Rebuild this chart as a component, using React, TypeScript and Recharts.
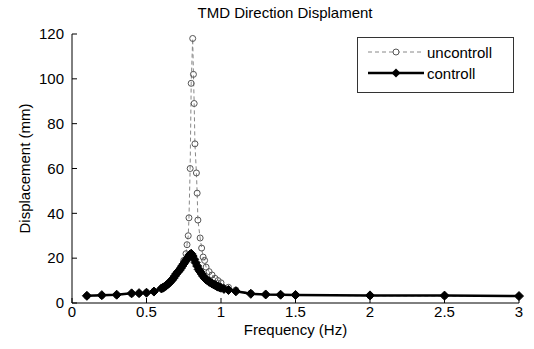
import React from "react";
import { LineChart, Line, XAxis, YAxis } from "recharts";

const uncFreq = [0.1, 0.2, 0.3, 0.4, 0.45, 0.5, 0.55, 0.6, 0.65, 0.7, 0.73, 0.75, 0.765, 0.772, 0.78, 0.785, 0.793, 0.8, 0.81, 0.815, 0.82, 0.825, 0.835, 0.84, 0.845, 0.86, 0.87, 0.88, 0.89, 0.9, 0.92, 0.94, 0.96, 0.98, 1.0, 1.05, 1.1, 1.2, 1.3, 1.4, 1.5, 2.0, 2.5, 3.0];
const uncDisp = [3.1, 3.3, 3.5, 4.1, 4.3, 4.7, 5.3, 6.5, 9, 13, 16, 19, 22, 26, 30, 38, 60, 98, 118, 102, 89, 71, 58, 49, 37, 29, 24.5, 20.5, 19, 16, 14, 12.5, 11, 10, 9, 7, 5.8, 4.4, 3.8, 3.6, 3.5, 3.2, 3.1, 3.0];

const ctrlFreq = [0.1, 0.2, 0.3, 0.4, 0.45, 0.5, 0.55, 0.6, 0.61, 0.62, 0.63, 0.64, 0.65, 0.66, 0.67, 0.68, 0.69, 0.7, 0.71, 0.72, 0.73, 0.74, 0.75, 0.76, 0.77, 0.78, 0.79, 0.8, 0.81, 0.82, 0.83, 0.84, 0.85, 0.86, 0.87, 0.88, 0.89, 0.9, 0.91, 0.92, 0.93, 0.94, 0.95, 0.96, 0.97, 0.98, 0.99, 1.0, 1.02, 1.05, 1.1, 1.2, 1.3, 1.4, 1.5, 2.0, 2.5, 3.0];
const ctrlDisp = [3.2, 3.5, 3.7, 4.3, 4.4, 4.6, 5.1, 6.5, 6.8, 7.2, 7.7, 8.2, 8.8, 9.5, 10.2, 11, 12, 13, 13.8, 14.5, 15.5, 16.5, 17.5, 18.5, 19.5, 20.5, 21.5, 22, 21, 19.5, 18, 16.5, 15, 14, 13, 12, 11.2, 10.5, 10, 9.5, 9.1, 8.7, 8.3, 8, 7.6, 7.3, 7, 6.8, 6.3, 5.8, 5.2, 4.1, 3.8, 3.7, 3.6, 3.4, 3.3, 3.1];

const xTicks = [0, 0.5, 1, 1.5, 2, 2.5, 3];
const yTicks = [0, 20, 40, 60, 80, 100, 120];

const uncData = uncFreq.map((f, i) => ({ f, v: uncDisp[i] }));
const ctrlData = ctrlFreq.map((f, i) => ({ f, v: ctrlDisp[i] }));

const FONT = "'Liberation Sans', Arial, Helvetica, sans-serif";

const CircleDot = (props: any) => {
  const { cx, cy, index } = props;
  if (cx == null || cy == null) return <g key={`c${index}`} />;
  return <circle key={`c${index}`} cx={cx} cy={cy} r={3} fill="none" stroke="#555" strokeWidth={1} />;
};

const DiamondDot = (props: any) => {
  const { cx, cy, index } = props;
  if (cx == null || cy == null) return <g key={`d${index}`} />;
  const s = 4.5;
  return (
    <path
      key={`d${index}`}
      d={`M${cx},${cy - s} L${cx + s},${cy} L${cx},${cy + s} L${cx - s},${cy} Z`}
      fill="#000"
      stroke="#000"
      strokeWidth={1}
    />
  );
};

const tickStyle = { fill: "#000", fontSize: 15, fontFamily: FONT };

export default function App() {
  return (
    <div style={{ position: "absolute", left: 0, top: 0, width: 534, height: 349, background: "#fff", fontFamily: FONT }}>
      <div
        style={{
          position: "absolute",
          left: 285,
          top: 4,
          transform: "translateX(-50%)",
          fontSize: 15,
          lineHeight: "18px",
          whiteSpace: "nowrap",
          color: "#000",
        }}
      >
        TMD Direction Displament
      </div>
      <LineChart width={534} height={349} margin={{ top: 34, right: 15, bottom: 0, left: 0 }}>
        <XAxis
          xAxisId="b"
          type="number"
          dataKey="f"
          domain={[0, 3]}
          ticks={xTicks}
          interval={0}
          allowDataOverflow
          height={46}
          tickSize={-5}
          tickMargin={8}
          stroke="#000"
          tick={tickStyle}
          label={{ value: "Frequency (Hz)", position: "insideBottom", offset: 14, fill: "#000", fontSize: 15, fontFamily: FONT }}
        />
        <XAxis
          xAxisId="t"
          orientation="top"
          type="number"
          dataKey="f"
          domain={[0, 3]}
          ticks={xTicks}
          interval={0}
          height={0}
          tickSize={-5}
          stroke="#333"
          tick={() => <g />}
        />
        <YAxis
          yAxisId="l"
          type="number"
          domain={[0, 120]}
          ticks={yTicks}
          interval={0}
          width={72}
          tickSize={-5}
          tickMargin={13}
          stroke="#000"
          tick={tickStyle}
          label={{
            value: "Displacement (mm)",
            angle: -90,
            position: "insideLeft",
            offset: 25,
            fill: "#000",
            fontSize: 15,
            fontFamily: FONT,
            style: { textAnchor: "middle" },
          }}
        />
        <YAxis
          yAxisId="r"
          orientation="right"
          type="number"
          domain={[0, 120]}
          ticks={yTicks}
          interval={0}
          width={0}
          tickSize={-5}
          stroke="#333"
          tick={() => <g />}
        />
        <Line
          xAxisId="b"
          yAxisId="l"
          data={uncData}
          dataKey="v"
          stroke="#888"
          strokeWidth={1}
          strokeDasharray="4 3"
          dot={CircleDot}
          isAnimationActive={false}
        />
        <Line
          xAxisId="t"
          yAxisId="r"
          data={ctrlData}
          dataKey="v"
          stroke="#000"
          strokeWidth={2.5}
          dot={DiamondDot}
          isAnimationActive={false}
        />
      </LineChart>
      <div
        style={{
          position: "absolute",
          left: 357,
          top: 37,
          width: 155,
          height: 54,
          border: "1px solid #333",
          background: "#fff",
          fontSize: 15,
          color: "#000",
        }}
      >
        <div style={{ position: "absolute", left: 10, top: 4, display: "flex", alignItems: "center", height: 20 }}>
          <svg width={56} height={20}>
            <line x1={0} y1={10} x2={56} y2={10} stroke="#888" strokeWidth={1} strokeDasharray="4 3" />
            <circle cx={28} cy={10} r={3} fill="#fff" stroke="#555" strokeWidth={1} />
          </svg>
          <span style={{ marginLeft: 3 }}>uncontroll</span>
        </div>
        <div style={{ position: "absolute", left: 10, top: 25, display: "flex", alignItems: "center", height: 20 }}>
          <svg width={56} height={20}>
            <line x1={0} y1={10} x2={56} y2={10} stroke="#000" strokeWidth={2.5} />
            <path d="M28,5.5 L32.5,10 L28,14.5 L23.5,10 Z" fill="#000" />
          </svg>
          <span style={{ marginLeft: 3 }}>controll</span>
        </div>
      </div>
    </div>
  );
}
